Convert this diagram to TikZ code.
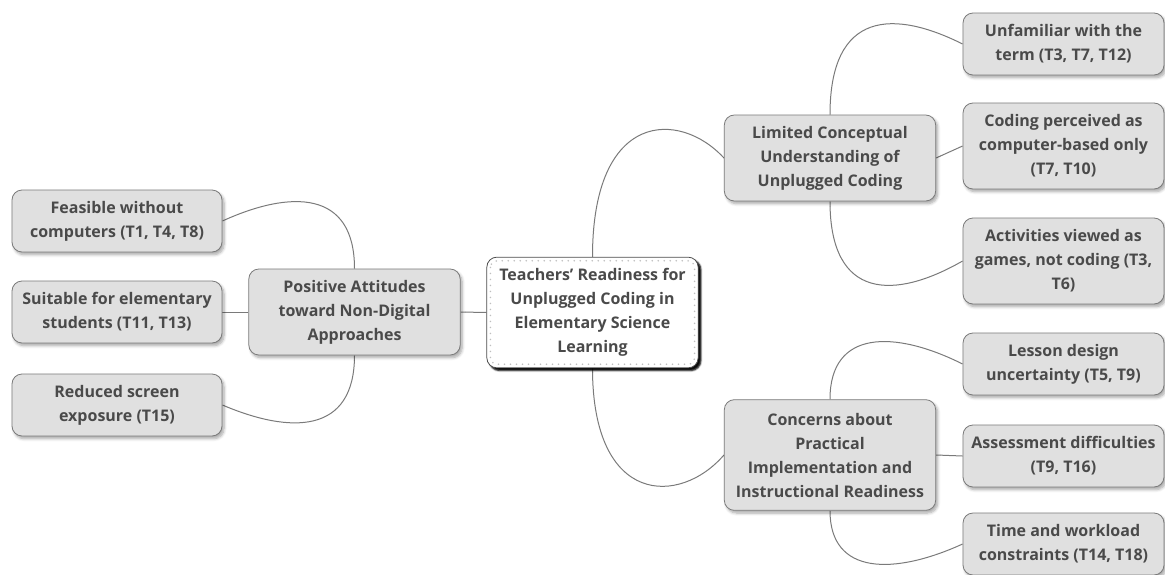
\documentclass[tikz,border=0pt]{standalone}
\usepackage{fontspec}
\setmainfont{Open Sans}
\usetikzlibrary{calc,shadows.blur}
\definecolor{boxfill}{HTML}{E0E0E0}
\definecolor{boxline}{HTML}{7A7A7A}
\definecolor{txt}{HTML}{4A4A4A}
\definecolor{wire}{HTML}{7A7A7A}
\pgfdeclarelayer{background}
\pgfsetlayers{background,main}
\tikzset{
  topic/.style={rectangle, rounded corners=7.5pt, fill=boxfill, draw=boxline,
    line width=0.6pt, text=txt, align=center, inner sep=0pt,
    font=\bfseries\fontsize{12}{18}\selectfont,
    blur shadow={shadow xshift=1.5pt, shadow yshift=-2pt, shadow blur steps=6, shadow opacity=35}},
  root/.style={topic, fill=white, draw=black!70,
    blur shadow={shadow xshift=2pt, shadow yshift=-2pt, shadow blur steps=3, shadow opacity=80, shadow blur radius=1.2pt}},
  two/.style={minimum height=46.5pt},
  three/.style={minimum height=64.5pt},
  four/.style={minimum height=83pt},
  wide/.style={minimum width=158.5pt},
  leaf/.style={minimum width=150.75pt},
  link/.style={draw=wire, line width=0.75pt},
}
\begin{document}
\begin{tikzpicture}[x=0.75pt,y=-0.75pt]
\useasboundingbox (0,0) rectangle (1165,575);

% central topic
\node[root, wide, four] (ctr) at (592.5,312.5)
  {Teachers’ Readiness for\\Unplugged Coding in\\Elementary Science\\Learning};
\draw[black!25, line width=1.3pt, line cap=round, dash pattern=on 0pt off 4.5pt, rounded corners=5pt]
  ($(ctr.north west)+(4,4)$) rectangle ($(ctr.south east)+(-4,-4)$);

% left branch
\node[topic, wide, three] (pos) at (354.5,312)
  {Positive Attitudes\\toward Non-Digital\\Approaches};
\node[topic, wide, two, minimum width=157.5pt] (fea) at (117,221)
  {Feasible without\\computers (T1, T4, T8)};
\node[topic, wide, two, minimum width=157.5pt] (sui) at (117,312)
  {Suitable for elementary\\students (T11, T13)};
\node[topic, wide, two, minimum width=157.5pt] (red) at (117,405)
  {Reduced screen\\exposure (T15)};

% right branches
\node[topic, wide, three] (lim) at (830,158)
  {Limited Conceptual\\Understanding of\\Unplugged Coding};
\node[topic, wide, four] (con) at (830,455)
  {Concerns about\\Practical\\Implementation and\\Instructional Readiness};

\node[topic, leaf, two] (unf) at (1063.5,44)
  {Unfamiliar with the\\term (T3, T7, T12)};
\node[topic, leaf, three] (cod) at (1063.5,146)
  {Coding perceived as\\computer-based only\\(T7, T10)};
\node[topic, leaf, three] (act) at (1063.5,261)
  {Activities viewed as\\games, not coding (T3,\\T6)};
\node[topic, leaf, two] (les) at (1063.5,364)
  {Lesson design\\uncertainty (T5, T9)};
\node[topic, leaf, two] (ass) at (1063.5,456)
  {Assessment difficulties\\(T9, T16)};
\node[topic, leaf, two] (tim) at (1063.5,544)
  {Time and workload\\constraints (T14, T18)};

% connectors
\begin{pgfonlayer}{background}
\draw[link] (ctr.west) -- (pos.east);
\draw[link] (ctr.north) .. controls +(0,-147) and +(-44,-48) .. (lim.west);
\draw[link] (ctr.south) .. controls +(0,138) and +(-44,51) .. (con.west);

\draw[link] (pos.north) .. controls +(0,-79) and +(68,-31) .. (fea.east);
\draw[link] (pos.west) -- (sui.east);
\draw[link] (pos.south) .. controls +(0,79) and +(68,29) .. (red.east);

\draw[link] (lim.north) .. controls +(0,-105) and +(-68,-34) .. (unf.west);
\draw[link] (lim.east) -- (cod.west);
\draw[link] (lim.south) .. controls +(0,99) and +(-68,39) .. (act.west);

\draw[link] (con.north) .. controls +(0,-70) and +(-68,-34) .. (les.west);
\draw[link] (con.east) -- (ass.west);
\draw[link] (con.south) .. controls +(0,65) and +(-68,31) .. (tim.west);
\end{pgfonlayer}
\end{tikzpicture}
\end{document}
